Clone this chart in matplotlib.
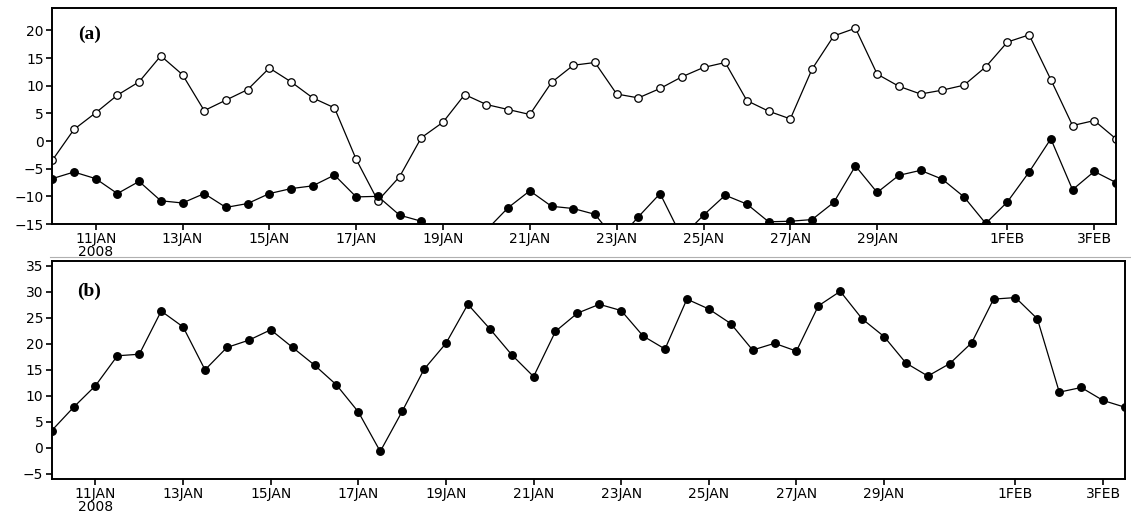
import numpy as np
import pandas as pd
import matplotlib
matplotlib.use("Agg")
import matplotlib.pyplot as plt
from matplotlib.lines import Line2D

# 12-hourly times, 10 Jan 2008 00Z onwards
times = pd.date_range("2008-01-10 00:00", periods=50, freq="12h")

# panel (a): open-circle series
open_a = [-3.5, 2.1, 5.1, 8.3, 10.7, 15.4, 12.0, 5.5, 7.4, 9.3,
          13.2, 10.7, 7.8, 6.0, -3.3, -10.8, -6.45, 0.6, 3.4, 8.4,
          6.6, 5.7, 4.8, 10.6, 13.7, 14.2, 8.5, 7.8, 9.5, 11.6,
          13.3, 14.2, 7.3, 5.4, 4.0, 13.0, 19.0, 20.4, 12.1, 9.9,
          8.5, 9.2, 10.1, 13.4, 17.9, 19.2, 11.1, 2.8, 3.7, 0.4]

# panel (a): filled-dot series (some values fall below the axis)
filled_a = [-6.8, -5.6, -6.8, -9.5, -7.3, -10.8, -11.2, -9.5, -12.0, -11.3,
            -9.5, -8.6, -8.1, -6.15, -10.1, -10.0, -13.4, -14.5, -17.5, -18.0,
            -16.1, -12.05, -9.0, -11.8, -12.2, -13.25, -18.1, -13.7, -9.5, -17.4,
            -13.4, -9.8, -11.4, -14.6, -14.5, -14.2, -11.1, -4.5, -9.3, -6.2,
            -5.3, -6.9, -10.1, -14.9, -11.0, -5.6, 0.4, -8.8, -5.5, -7.5]

# panel (b)
vals_b = [3.3, 7.8, 11.95, 17.7, 18.0, 26.3, 23.25, 15.0, 19.3, 20.7,
          22.7, 19.3, 15.9, 12.1, 6.9, -0.7, 7.0, 15.1, 20.1, 27.6,
          22.9, 17.9, 13.7, 22.4, 25.9, 27.6, 26.4, 21.5, 19.0, 28.6,
          26.7, 23.9, 18.8, 20.1, 18.6, 27.3, 30.1, 24.8, 21.4, 16.3,
          13.8, 16.2, 20.2, 28.6, 28.9, 24.8, 10.7, 11.6, 9.1, 7.8]

tick_days = ["2008-01-11", "2008-01-13", "2008-01-15", "2008-01-17",
             "2008-01-19", "2008-01-21", "2008-01-23", "2008-01-25",
             "2008-01-27", "2008-01-29", "2008-02-01", "2008-02-03"]
tick_labels = ["11JAN\n2008", "13JAN", "15JAN", "17JAN", "19JAN", "21JAN",
               "23JAN", "25JAN", "27JAN", "29JAN", "1FEB", "3FEB"]

plt.rcParams["font.family"] = "DejaVu Sans"

fig = plt.figure(figsize=(11.31, 5.12), dpi=100)
ax1 = fig.add_axes([0.0462, 0.5625, 0.9405, 0.4213])
ax2 = fig.add_axes([0.0457, 0.0645, 0.949, 0.4264])


def style_axis(ax, ylim, yticks):
    ax.set_xlim(pd.Timestamp("2008-01-10 00:00"), pd.Timestamp("2008-02-03 12:00"))
    ax.set_ylim(*ylim)
    ax.set_yticks(yticks)
    ax.set_yticklabels([str(v).replace("-", "\u2212") for v in yticks])
    ax.set_xticks(pd.to_datetime(tick_days))
    ax.set_xticklabels(tick_labels, linespacing=0.85)
    ax.tick_params(axis="both", direction="out", length=4, width=1.2,
                   labelsize=10, pad=2, top=False, right=False)
    for s in ax.spines.values():
        s.set_linewidth(1.4)


ax1.plot(times, open_a, color="black", lw=0.9, marker="o", ms=5.4,
         mfc="white", mec="black", mew=0.9)
ax1.plot(times, filled_a, color="black", lw=0.9, marker="o", ms=5.4,
         mfc="black", mec="black")
style_axis(ax1, (-15, 24), np.arange(-15, 21, 5))
ax1.text(0.024, 0.86, "(a)", transform=ax1.transAxes, fontsize=14,
         fontweight="bold", family="Liberation Serif")

ax2.plot(times, vals_b, color="black", lw=0.9, marker="o", ms=5.4,
         mfc="black", mec="black")
style_axis(ax2, (-6, 36), np.arange(-5, 36, 5))
ax2.text(0.024, 0.84, "(b)", transform=ax2.transAxes, fontsize=14,
         fontweight="bold", family="Liberation Serif")

# thin grey rule between the two panels
fig.add_artist(Line2D([0.044, 1.0], [1 - 257 / 512, 1 - 257 / 512],
                      transform=fig.transFigure, color="#b0b0b0", lw=0.8))

fig.savefig("out.png", dpi=100, facecolor="white")
